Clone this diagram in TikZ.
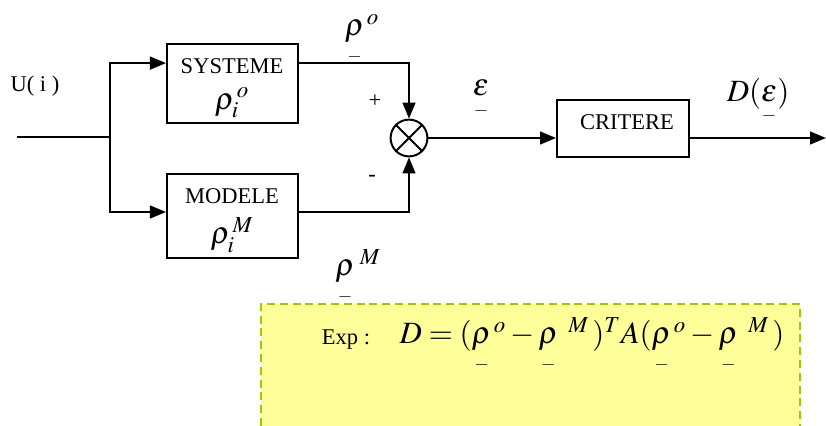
\documentclass[tikz,border=0pt]{standalone}
\usepackage{amsmath}
\usepackage{mathptmx}
\usepackage{fontspec}
\setmainfont{Liberation Serif}
\usetikzlibrary{arrows.meta}
\definecolor{expfill}{HTML}{FFFF99}
\definecolor{expline}{HTML}{99CC00}
\newcommand{\ub}[1]{\underset{\scriptscriptstyle -}{#1}}

\begin{document}
\begin{tikzpicture}[x=0.025cm, y=-0.025cm, line width=1.4pt,
	every node/.style={font=\fontsize{16}{19}\selectfont},
	bigmath/.style={font=\fontsize{22}{26}\selectfont},
	blockbox/.style={draw, rectangle, inner sep=0pt},
	>={Triangle[length=4mm, width=3.2mm]}]
	\useasboundingbox (0,0) rectangle (826,426);
	% exemple de critere
	\fill[expfill] (261,304) rectangle (800,426);
	\draw[expline, dash pattern=on 0.2cm off 0.12cm] (261,426) -- (261,304) -- (800,304) -- (800,426);
	\node (exp) at (346,340) {Exp :};
	\node[bigmath] (crit-formula) at (592,346) {$D = (\ub{\rho}^{\,o} - \ub{\rho}^{\;\;M}\,)^T A(\ub{\rho}^{\,o} - \ub{\rho}^{\;\;M}\,)$};
	% blocs
	\coordinate (in) at (17,137);
	\coordinate (split) at (110,137);
	\node[blockbox, minimum width=3.275cm, minimum height=1.975cm] (sys) at (232.5,83.5) {};
	\node[blockbox, minimum width=3.275cm, minimum height=2.1cm] (mod) at (232.5,216) {};
	\node[draw, circle, minimum size=0.92cm, inner sep=0pt] (sum) at (409,138) {};
	\node[blockbox, minimum width=3.3cm, minimum height=1.425cm] (crit) at (623,128.5) {};
	\coordinate (out) at (826,138);
	\draw (sum.45) -- (sum.225) (sum.135) -- (sum.315);
	% textes
	\node (u) at (35,86) {U( i )};
	\node (sys-name) at (232,66) {SYSTEME};
	\node[bigmath] (sys-rho) at (232,103) {$\rho_i^{\,o}$};
	\node (mod-name) at (232,196) {MODELE};
	\node[bigmath] (mod-rho) at (232,235) {$\rho_i^{\,M}$};
	\node (crit-name) at (627,122) {CRITERE};
	\node (plus) at (375,101) {+};
	\node (minus) at (372,178) {-};
	\node[bigmath] (rho-o) at (362,40) {$\ub{\rho}^{\,o}$};
	\node[bigmath] (rho-m) at (358,278) {$\ub{\rho}^{\;M}$};
	\node[bigmath] (eps) at (481,100) {$\ub{\varepsilon}$};
	\node[bigmath] (d-eps) at (758,102) {$D(\ub{\varepsilon})$};
	% liaisons
	\draw (in) -- (split);
	\draw[->] (split) |- ([yshift=0.51cm]sys.west);
	\draw[->] (split) |- ([yshift=0.1cm]mod.west);
	\draw[->] ([yshift=0.51cm]sys.east) -| (sum.north);
	\draw[->] ([yshift=0.1cm]mod.east) -| (sum.south);
	\draw[->] (sum.east) -- (sum.east -| crit.west);
	\draw[->] (sum.east -| crit.east) -- (out);
\end{tikzpicture}
\end{document}
